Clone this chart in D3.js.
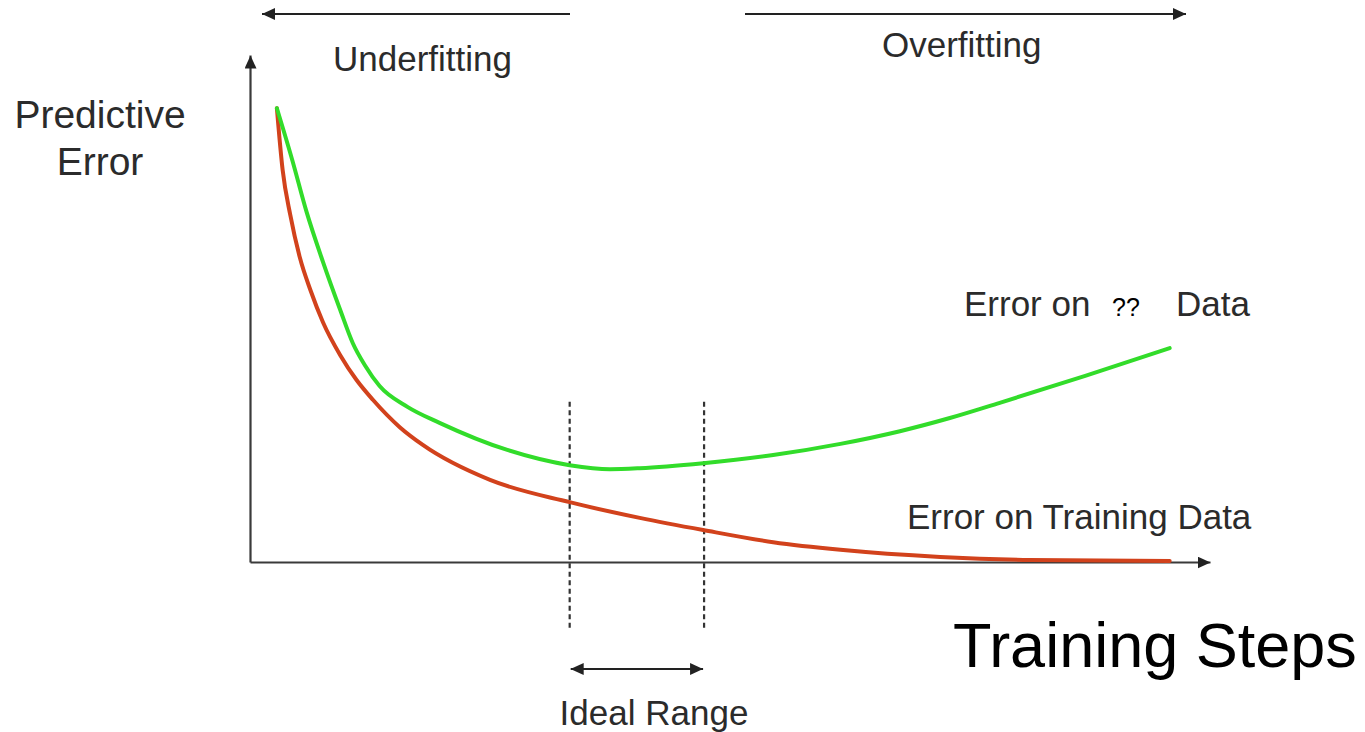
<!DOCTYPE html>
<html>
<head>
<meta charset="utf-8">
<script src="https://cdn.jsdelivr.net/npm/d3@7"></script>
<style>
  body { margin: 0; background: #fff; }
  svg { display: block; }
  text { font-family: "Liberation Sans", Arial, Helvetica, sans-serif; fill: #2b2b2b; }
</style>
</head>
<body>
<svg id="chart" width="1365" height="732"></svg>
<script>
"use strict";

// Training steps (x) and error (y)
const greenSteps = [2.8, 4.4, 5.9, 7.6, 9.4, 10.7, 12.0, 13.5, 16.4, 19.8, 26.8, 33.3, 37.5, 40.6, 47.2, 54.5, 61.5, 67.7, 72.9, 78.1, 87.0, 95.8];
const greenError = [89.5, 79.3, 69.0, 59.2, 49.7, 43.2, 38.7, 34.7, 30.6, 27.4, 22.1, 19.1, 18.3, 18.5, 19.5, 21.1, 23.3, 25.8, 28.4, 31.4, 36.7, 42.2];

const redSteps = [2.8, 3.4, 4.2, 5.2, 6.3, 7.6, 9.4, 11.1, 12.8, 15.6, 18.0, 25.0, 33.3, 40.6, 47.2, 54.5, 61.5, 71.9, 81.3, 95.8];
const redError = [89.5, 77.3, 68.4, 60.0, 53.6, 47.3, 40.8, 35.9, 32.0, 26.6, 23.1, 16.2, 11.8, 8.7, 6.3, 3.9, 2.4, 1.0, 0.4, 0.2];

// ideal range bounds (training steps)
const idealRange = [33.3, 47.3];

const svg = d3.select("#chart");

const x = d3.scaleLinear().domain([0, 100]).range([250, 1210]);
const y = d3.scaleLinear().domain([0, 100]).range([562, 55]);

const defs = svg.append("defs");
defs.append("marker")
  .attr("id", "arrow")
  .attr("viewBox", "0 0 13 12")
  .attr("refX", 13)
  .attr("refY", 6)
  .attr("markerWidth", 13)
  .attr("markerHeight", 12)
  .attr("markerUnits", "userSpaceOnUse")
  .attr("orient", "auto-start-reverse")
  .append("path")
  .attr("d", "M0,0L13,6L0,12Z")
  .attr("fill", "#222");

// axes, no ticks: only the domain line with an arrow
const xAxis = svg.append("g")
  .attr("transform", `translate(0,${y(0)})`)
  .call(d3.axisBottom(x).ticks(0).tickSizeOuter(0));
const yAxis = svg.append("g")
  .attr("transform", `translate(${x(0)},0)`)
  .call(d3.axisLeft(y).ticks(0).tickSizeOuter(0));

[xAxis, yAxis].forEach(a => {
  a.select(".domain")
    .attr("stroke", "#3a3a3a")
    .attr("stroke-width", 2.2)
    .attr("marker-end", "url(#arrow)");
});

// dashed ideal range bounds
svg.append("g")
  .selectAll("line")
  .data(idealRange)
  .enter()
  .append("line")
  .attr("x1", d => x(d))
  .attr("x2", d => x(d))
  .attr("y1", y(31.6))
  .attr("y2", y(-13))
  .attr("stroke", "#333")
  .attr("stroke-width", 2.2)
  .attr("stroke-dasharray", "5,3.5");

const line = d3.line()
  .x(d => x(d[0]))
  .y(d => y(d[1]))
  .curve(d3.curveMonotoneX);

svg.append("path")
  .datum(d3.zip(redSteps, redError))
  .attr("d", line)
  .attr("fill", "none")
  .attr("stroke", "#d2421c")
  .attr("stroke-width", 4)
  .attr("stroke-linecap", "round");

svg.append("path")
  .datum(d3.zip(greenSteps, greenError))
  .attr("d", line)
  .attr("fill", "none")
  .attr("stroke", "#32dc2a")
  .attr("stroke-width", 4)
  .attr("stroke-linecap", "round");

// top arrows + ideal range arrow
const arrows = svg.append("g")
  .attr("stroke", "#222")
  .attr("stroke-width", 2.2);
arrows.append("line")
  .attr("x1", 570).attr("y1", 14)
  .attr("x2", 262).attr("y2", 14)
  .attr("marker-end", "url(#arrow)");
arrows.append("line")
  .attr("x1", 745).attr("y1", 14)
  .attr("x2", 1186).attr("y2", 14)
  .attr("marker-end", "url(#arrow)");
arrows.append("line")
  .attr("x1", x(idealRange[0]) + 1).attr("y1", 669)
  .attr("x2", x(idealRange[1]) - 1).attr("y2", 669)
  .attr("marker-start", "url(#arrow)")
  .attr("marker-end", "url(#arrow)");

const labels = svg.append("g")
  .attr("font-size", 35);

labels.append("text").attr("x", 333).attr("y", 71).text("Underfitting");
labels.append("text").attr("x", 882).attr("y", 57).text("Overfitting");
labels.append("text").attr("x", 964).attr("y", 316).text("Error on");
labels.append("text").attr("x", 1176).attr("y", 316).text("Data");
labels.append("text").attr("x", 907).attr("y", 529).text("Error on Training Data");
labels.append("text").attr("x", 654).attr("y", 725).attr("text-anchor", "middle").text("Ideal Range");

const yLabel = svg.append("g")
  .attr("font-size", 39)
  .attr("text-anchor", "middle");
yLabel.append("text").attr("x", 100).attr("y", 128).text("Predictive");
yLabel.append("text").attr("x", 100).attr("y", 175).text("Error");

svg.append("text")
  .attr("x", 1112).attr("y", 316)
  .attr("font-size", 25)
  .style("fill", "#000")
  .text("??");

svg.append("text")
  .attr("x", 953).attr("y", 667)
  .attr("font-size", 63)
  .style("fill", "#000")
  .text("Training Steps");
</script>
</body>
</html>
